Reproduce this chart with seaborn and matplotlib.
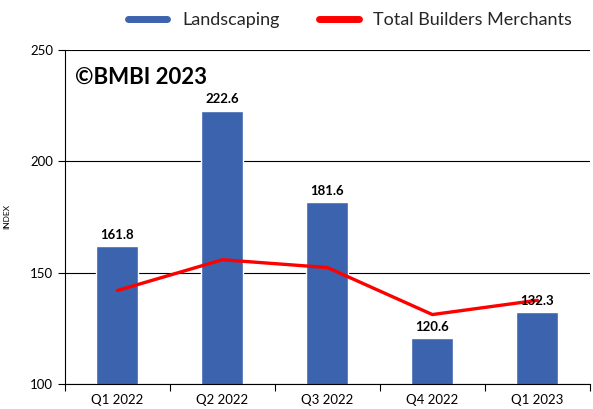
import numpy as np
import pandas as pd
import seaborn as sns
import matplotlib.pyplot as plt
from matplotlib.lines import Line2D

# --- dados ---
quarters = ["Q1 2022", "Q2 2022", "Q3 2022", "Q4 2022", "Q1 2023"]
landscaping = [161.8, 222.6, 181.6, 120.6, 132.3]
total_bm = [142.0, 155.8, 152.3, 131.2, 137.6]

df = pd.DataFrame({"Trimestre": quarters, "Landscaping": landscaping, "Total": total_bm})

sns.set_theme(style="white")
plt.rcParams["font.family"] = ["Lato", "DejaVu Sans"]

blue = "#3C63AD"
red = "#FF0000"

fig = plt.figure(figsize=(5.93, 4.09), dpi=100)
ax = fig.add_axes([0.1096, 0.061, 0.885, 0.817])

sns.barplot(data=df, x="Trimestre", y="Landscaping", color=blue, width=0.4,
            saturation=1, ax=ax, zorder=2)
sns.lineplot(data=df, x="Trimestre", y="Total", color=red, linewidth=2.4,
             ax=ax, zorder=3, sort=False)

# rótulos das barras
for i, v in enumerate(landscaping):
    ax.annotate(f"{v:.1f}", (i, v), xytext=(0, 4), textcoords="offset points",
                ha="center", va="bottom", fontsize=9.5, fontweight="bold", color="black")

ax.set_ylim(100, 250)
ax.set_xlim(-0.5, 4.5)
ax.set_yticks([100, 150, 200, 250])
ax.yaxis.grid(True, color="black", linewidth=0.8)
ax.set_axisbelow(True)

ax.set_xticks(range(len(quarters)))
ax.set_xticklabels(quarters)
ax.set_xticks(np.arange(-0.5, 5, 1), minor=True)
ax.tick_params(axis="x", which="major", length=0, pad=7, labelsize=9.5, colors="black")
ax.tick_params(axis="x", which="minor", length=5, width=0.8, direction="out", bottom=True, color="black")
ax.tick_params(axis="y", length=5, width=0.8, direction="out", left=True, labelsize=9.5, colors="black")

for s in ["top", "right"]:
    ax.spines[s].set_visible(False)
for s in ["left", "bottom"]:
    ax.spines[s].set_color("black")
    ax.spines[s].set_linewidth(0.8)

ax.set_xlabel("")
ax.set_ylabel("INDEX", fontsize=6, color="black", labelpad=14)

ax.text(0.02, 0.948, "©BMBI 2023", transform=ax.transAxes, fontsize=16,
        fontweight="bold", va="top", ha="left", color="black")

handles = [Line2D([0], [0], color=blue, linewidth=5),
           Line2D([0], [0], color=red, linewidth=5)]
fig.legend(handles, ["Landscaping", "Total Builders Merchants"], loc="upper center",
           bbox_to_anchor=(0.59, 1.01), ncol=2, frameon=False, fontsize=13,
           handlelength=2.2, columnspacing=2.2)

fig.savefig("out.png", dpi=100)
